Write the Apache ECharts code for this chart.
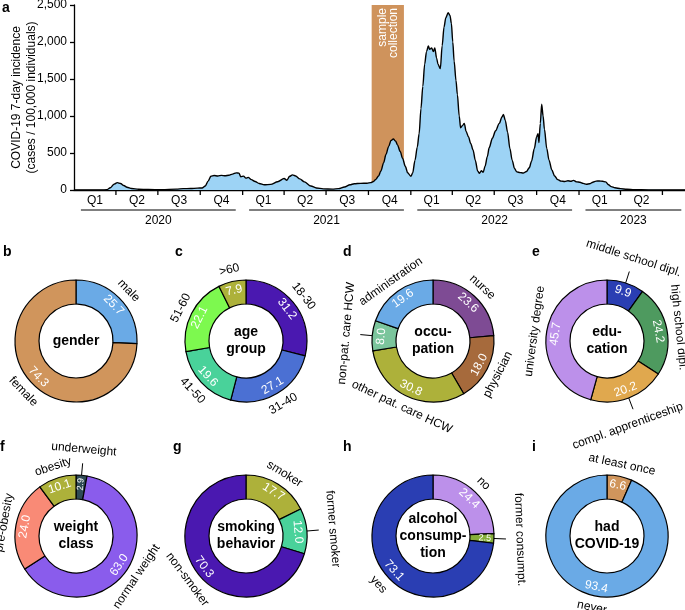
<!DOCTYPE html>
<html><head><meta charset="utf-8">
<script src="https://cdn.jsdelivr.net/npm/echarts@6/dist/echarts.min.js"></script>
<style>html,body{margin:0;padding:0;background:#fff}#c{width:685px;height:610px}</style>
</head><body><div id="c"></div>
<script>
// ---------------- DATA ----------------
const incidenceDates = ['2020-01-01','2020-03-01','2020-03-12','2020-03-20','2020-03-28','2020-04-04','2020-04-11','2020-04-18','2020-04-25','2020-05-05','2020-05-20','2020-06-10','2020-07-10','2020-08-10','2020-08-25','2020-09-10','2020-09-25','2020-10-05','2020-10-12','2020-10-18','2020-10-24','2020-10-31','2020-11-08','2020-11-16','2020-11-24','2020-12-02','2020-12-10','2020-12-18','2020-12-24','2020-12-28','2021-01-03','2021-01-08','2021-01-13','2021-01-20','2021-01-28','2021-02-06','2021-02-17','2021-03-03','2021-03-18','2021-04-01','2021-04-07','2021-04-13','2021-04-19','2021-04-26','2021-05-05','2021-05-15','2021-05-29','2021-06-10','2021-06-25','2021-07-15','2021-07-28','2021-08-10','2021-08-22','2021-08-31','2021-09-14','2021-09-28','2021-10-06','2021-10-12','2021-10-17','2021-10-23','2021-10-28','2021-11-03','2021-11-08','2021-11-14','2021-11-19','2021-11-24','2021-11-29','2021-12-03','2021-12-09','2021-12-14','2021-12-20','2021-12-25','2022-01-01','2022-01-05','2022-01-10','2022-01-15','2022-01-19','2022-01-23','2022-01-27','2022-01-31','2022-02-04','2022-02-08','2022-02-11','2022-02-15','2022-02-19','2022-02-22','2022-02-26','2022-03-01','2022-03-06','2022-03-10','2022-03-14','2022-03-18','2022-03-23','2022-03-27','2022-03-30','2022-04-02','2022-04-05','2022-04-09','2022-04-12','2022-04-16','2022-04-19','2022-04-23','2022-04-27','2022-05-01','2022-05-06','2022-05-11','2022-05-16','2022-05-21','2022-05-26','2022-05-30','2022-06-03','2022-06-07','2022-06-11','2022-06-16','2022-06-20','2022-06-27','2022-07-04','2022-07-12','2022-07-18','2022-07-21','2022-07-25','2022-07-30','2022-08-04','2022-08-09','2022-08-14','2022-08-19','2022-08-26','2022-09-02','2022-09-09','2022-09-15','2022-09-20','2022-09-26','2022-10-01','2022-10-04','2022-10-06','2022-10-09','2022-10-12','2022-10-15','2022-10-18','2022-10-23','2022-10-28','2022-11-03','2022-11-09','2022-11-16','2022-11-23','2022-12-01','2022-12-08','2022-12-14','2022-12-20','2022-12-27','2023-01-03','2023-01-10','2023-01-17','2023-01-24','2023-01-31','2023-02-07','2023-02-14','2023-02-21','2023-02-28','2023-03-06','2023-03-12','2023-03-20','2023-04-01','2023-04-15','2023-05-01','2023-06-01','2023-07-01','2023-08-19'];
const incidenceValues = [0,0,3,30,80,100,88,60,38,20,10,6,5,12,18,20,25,28,55,120,185,195,190,198,192,200,215,232,228,180,188,160,170,140,115,88,70,76,112,155,132,185,205,190,150,110,55,28,15,12,18,40,70,85,90,92,100,115,144,190,256,370,480,590,670,690,660,610,520,430,320,234,185,230,400,580,760,1100,1400,1700,1870,1945,1900,1920,1870,1920,1780,1700,1640,1950,2200,2330,2395,2360,2250,2000,1740,1480,1290,1000,840,870,900,790,720,630,540,400,256,225,260,240,320,450,570,700,800,900,990,1020,940,780,560,400,290,245,235,230,250,300,390,560,720,760,640,900,1160,1000,820,560,400,270,190,140,120,115,125,118,130,110,105,90,78,85,105,120,122,118,110,70,45,30,18,10,5,2,1,0];
const sampleCollection = ['2021-10-08', '2021-12-17'];
const axisStart = '2020-01-01', axisEnd = '2023-08-19';
const quarterBounds = ['2020-01-01','2020-04-01','2020-07-01','2020-10-01','2021-01-01','2021-04-01','2021-07-01','2021-10-01','2022-01-01','2022-04-01','2022-07-01','2022-10-01','2023-01-01','2023-04-01','2023-07-01'];
const quarterLabels = ['Q1','Q2','Q3','Q4','Q1','Q2','Q3','Q4','Q1','Q2','Q3','Q4','Q1','Q2'];
const yearLabels = ['2020','2021','2022','2023'];
const yearLineStart = ['2020-01-16','2021-01-15','2022-01-15','2023-01-15'];
const yearLineEnd = ['2020-12-17','2021-12-17','2022-12-17','2023-08-11'];
const yTicks = [0, 500, 1000, 1500, 2000, 2500];

const genderNames = ['male','female'];
const genderValues = [25.7, 74.3];
const ageNames = ['18-30','31-40','41-50','51-60','>60'];
const ageValues = [31.2, 27.1, 19.6, 22.1, 7.9];
const occupationNames = ['nurse','physician','other pat. care HCW','non-pat. care HCW','administration'];
const occupationValues = [23.6, 18.0, 30.8, 8.0, 19.6];
const educationNames = ['middle school dipl.','high school dipl.','compl. apprenticeship','university degree'];
const educationValues = [9.9, 24.2, 20.2, 45.7];
const weightNames = ['underweight','normal weight','pre-obesity','obesity'];
const weightValues = [2.9, 63.0, 24.0, 10.1];
const smokingNames = ['smoker','former smoker','non-smoker'];
const smokingValues = [17.7, 12.0, 70.3];
const alcoholNames = ['no','former consumpt.','yes'];
const alcoholValues = [24.4, 2.5, 73.1];
const covidNames = ['at least once','never'];
const covidValues = [6.6, 93.4];

// ---------------- STYLE ----------------
const FONT = '"Liberation Sans", Arial, Helvetica, sans-serif';
const C = {
  blue:'#6AAAE6', tan:'#D0955C', purple:'#4A18B0', midblue:'#4B70D3', teal:'#49D29A', lime:'#7DF94F',
  olive:'#ADB13A', plum:'#7E4B94', brown:'#A66A3C', sage:'#7BC59C', navy:'#2A3EB3', green:'#4E9A5F',
  orange:'#E0A84E', lavender:'#BC90EA', violet:'#8A5CEC', salmon:'#F98A76', slate:'#2E4A55', grass:'#86AE3A'
};
const RIN = 37, ROUT = 61;
const donuts = [
  {title:'gender', center:[76,341], names:genderNames, values:genderValues, colors:[C.blue,C.tan], leader:[], valueLbl:{}, nameLbl:{}},
  {title:'age\ngroup', center:[246,341], names:ageNames, values:ageValues, colors:[C.purple,C.midblue,C.teal,C.lime,C.olive], leader:[], valueLbl:{}, nameLbl:{}},
  {title:'occu-\npation', center:[433,341], names:occupationNames, values:occupationValues, colors:[C.plum,C.brown,C.olive,C.sage,C.blue], leader:['non-pat. care HCW'], valueLbl:{}, nameLbl:{}},
  {title:'edu-\ncation', center:[607,341], names:educationNames, values:educationValues, colors:[C.navy,C.green,C.orange,C.lavender], leader:['middle school dipl.','compl. apprenticeship'], valueLbl:{},
    nameLbl:{'compl. apprenticeship':{rotate:20, padding:[0,22,0,0]}, 'high school dipl.':{rotate:-84}}},
  {title:'weight\nclass', center:[76,536], names:weightNames, values:weightValues, colors:[C.slate,C.violet,C.salmon,C.olive], leader:['underweight'], valueLbl:{'underweight':{rotate:'radial', fontSize:9}}, nameLbl:{'pre-obesity':{padding:[8,0,0,0]}}},
  {title:'smoking\nbehavior', center:[246,536], names:smokingNames, values:smokingValues, colors:[C.olive,C.teal,C.purple], leader:['former smoker'], valueLbl:{}, nameLbl:{}},
  {title:'alcohol\nconsump-\ntion', center:[433,536], names:alcoholNames, values:alcoholValues, colors:[C.lavender,C.grass,C.navy], leader:['former consumpt.'], valueLbl:{'former consumpt.':{rotate:'radial', fontSize:9}}, nameLbl:{'former consumpt.':{rotate:-88}}},
  {title:'had\nCOVID-19', center:[607,536], names:covidNames, values:covidValues, colors:[C.tan,C.blue], leader:[], valueLbl:{}, nameLbl:{}}
];
const letterPos = {a:[2,1], b:[3,245], c:[175,245], d:[343,245], e:[532,245], f:[0,440], g:[173,440], h:[343,440], i:[532,440]};

// ---------------- BUILD ----------------
const P = s => echarts.number.parseDate(s).getTime();
const chart = echarts.init(document.getElementById('c'));

const lineData = incidenceDates.map((d, i) => [d, incidenceValues[i]]);
const quarterTickData = quarterBounds.slice(1).map(d => [P(d), 0]);
const quarterLabelData = quarterLabels.map((q, i) => [(P(quarterBounds[i]) + P(quarterBounds[i + 1])) / 2, 0]);
const yearData = yearLabels.map((y, i) => [P(yearLineStart[i]), P(yearLineEnd[i]), 0]);

const series = [];
series.push({
  type:'custom', name:'sample', z:1, silent:true,
  encode:{x:[0,1], y:[2,3]},
  data:[[P(sampleCollection[0]), P(sampleCollection[1]), 0, yTicks[yTicks.length-1]]],
  renderItem:(params, api) => {
    const a = api.coord([api.value(0), api.value(3)]);
    const b = api.coord([api.value(1), api.value(2)]);
    return {type:'group', children:[
      {type:'rect', shape:{x:a[0], y:a[1], width:b[0]-a[0], height:b[1]-a[1]}, style:{fill:'#CF935C'}},
      {type:'text', x:(a[0]+b[0])/2, y:a[1]+3, rotation:Math.PI/2,
       style:{text:'sample\ncollection', align:'right', verticalAlign:'middle', fill:'#fff', font:'12px ' + FONT, lineHeight:11}}
    ]};
  }
});
series.push({
  type:'line', name:'incidence', z:2, data:lineData, showSymbol:false, symbol:'none',
  smooth:0.3, smoothMonotone:'x',
  lineStyle:{color:'#000', width:1.4}, areaStyle:{color:'#9DD3F5', opacity:1}, silent:true
});
series.push({
  type:'custom', name:'qticks', silent:true, encode:{x:0, y:1}, data:quarterTickData,
  renderItem:(params, api) => {
    const p = api.coord([api.value(0), 0]);
    return {type:'line', shape:{x1:p[0], y1:p[1], x2:p[0], y2:p[1]+5}, style:{stroke:'#000', lineWidth:1.3}};
  }
});
series.push({
  type:'custom', name:'qlabels', silent:true, encode:{x:0, y:1}, data:quarterLabelData,
  renderItem:(params, api) => {
    const p = api.coord([api.value(0), 0]);
    return {type:'text', x:p[0], y:p[1]+11, style:{text:quarterLabels[params.dataIndex], align:'center', verticalAlign:'middle', fill:'#000', font:'12px ' + FONT}};
  }
});
series.push({
  type:'custom', name:'years', silent:true, encode:{x:[0,1], y:2}, data:yearData,
  renderItem:(params, api) => {
    const a = api.coord([api.value(0), 0]);
    const b = api.coord([api.value(1), 0]);
    return {type:'group', children:[
      {type:'line', shape:{x1:a[0], y1:a[1]+20, x2:b[0], y2:a[1]+20}, style:{stroke:'#000', lineWidth:1}},
      {type:'text', x:(a[0]+b[0])/2, y:a[1]+31, style:{text:yearLabels[params.dataIndex], align:'center', verticalAlign:'middle', fill:'#000', font:'12px ' + FONT}}
    ]};
  }
});

donuts.forEach(d => {
  const base = {type:'pie', center:d.center, startAngle:90, clockwise:true, silent:true, avoidLabelOverlap:false,
    emphasis:{disabled:true}, labelLine:{show:false}, minShowLabelAngle:0, labelLayout:{hideOverlap:false}};
  const clear = {color:'rgba(0,0,0,0)', borderWidth:0};
  series.push(Object.assign({}, base, {
    radius:[RIN, ROUT], itemStyle:{borderColor:'#000', borderWidth:1.2},
    label:{show:true, position:'inside', rotate:'tangential', color:'#fff', fontSize:12, fontFamily:FONT, formatter:p => p.value.toFixed(1)},
    data:d.names.map((n, i) => ({name:n, value:d.values[i], itemStyle:{color:d.colors[i]}, label:d.valueLbl[n] || {}}))
  }));
  series.push(Object.assign({}, base, {
    radius:[ROUT, ROUT + 18], itemStyle:clear,
    label:{show:true, position:'inside', rotate:'tangential', color:'#000', fontSize:12, fontFamily:FONT, formatter:'{b}'},
    data:d.names.map((n, i) => ({name:n, value:d.values[i], label:Object.assign({show:!d.leader.includes(n)}, d.leader.includes(n) ? {} : (d.nameLbl[n] || {}))}))
  }));
  if (d.leader.length) {
    series.push(Object.assign({}, base, {
      radius:[ROUT, ROUT + 46], itemStyle:clear,
      label:{show:true, position:'inside', rotate:'tangential', color:'#000', fontSize:12, fontFamily:FONT, formatter:'{b}'},
      data:d.names.map((n, i) => ({name:n, value:d.values[i], label:Object.assign({show:d.leader.includes(n)}, d.leader.includes(n) ? (d.nameLbl[n] || {}) : {})}))
    }));
    series.push(Object.assign({}, base, {
      radius:[ROUT - 0.5, ROUT], itemStyle:clear,
      label:{show:true, position:'outside', formatter:' ', fontSize:4, distance:0},
      labelLine:{show:true, length:12, length2:0, smooth:false, lineStyle:{color:'#000', width:1}},
      data:d.names.map((n, i) => ({name:n, value:d.values[i], label:{show:d.leader.includes(n)}, labelLine:{show:d.leader.includes(n)}}))
    }));
  }
  series.push(Object.assign({}, base, {
    radius:[0, 1], itemStyle:clear,
    label:{show:true, position:'center', formatter:d.title, fontWeight:'bold', fontSize:14, lineHeight:17, color:'#000', fontFamily:FONT},
    data:[{name:d.title, value:1}]
  }));
});

const titles = Object.keys(letterPos).map(k => ({
  text:k, left:letterPos[k][0], top:letterPos[k][1], padding:0,
  textStyle:{fontWeight:'bold', fontSize:14, color:'#000', fontFamily:FONT}
}));

chart.setOption({
  animation:false,
  backgroundColor:'#fff',
  title:titles,
  grid:{left:74, right:0, top:5, height:185, containLabel:false, outerBoundsMode:'none'},
  xAxis:{type:'time', min:P(axisStart), max:P(axisEnd),
    axisLine:{show:true, onZero:false, lineStyle:{color:'#000', width:1.3}},
    axisTick:{show:false}, axisLabel:{show:false}, splitLine:{show:false}},
  yAxis:{type:'value', min:yTicks[0], max:yTicks[yTicks.length-1], interval:yTicks[1]-yTicks[0],
    name:'COVID-19 7-day incidence\n(cases / 100,000 individuals)', nameLocation:'middle', nameGap:35, nameMoveOverlap:false,
    nameTextStyle:{color:'#000', fontSize:12, fontFamily:FONT, lineHeight:15},
    axisLine:{show:true, lineStyle:{color:'#000', width:1.3}},
    axisTick:{show:true, length:4, lineStyle:{color:'#000', width:1.3}},
    axisLabel:{color:'#000', fontSize:12, fontFamily:FONT, margin:7, formatter:v => v.toLocaleString('en-US')},
    splitLine:{show:false}},
  series:series
});
</script></body></html>
